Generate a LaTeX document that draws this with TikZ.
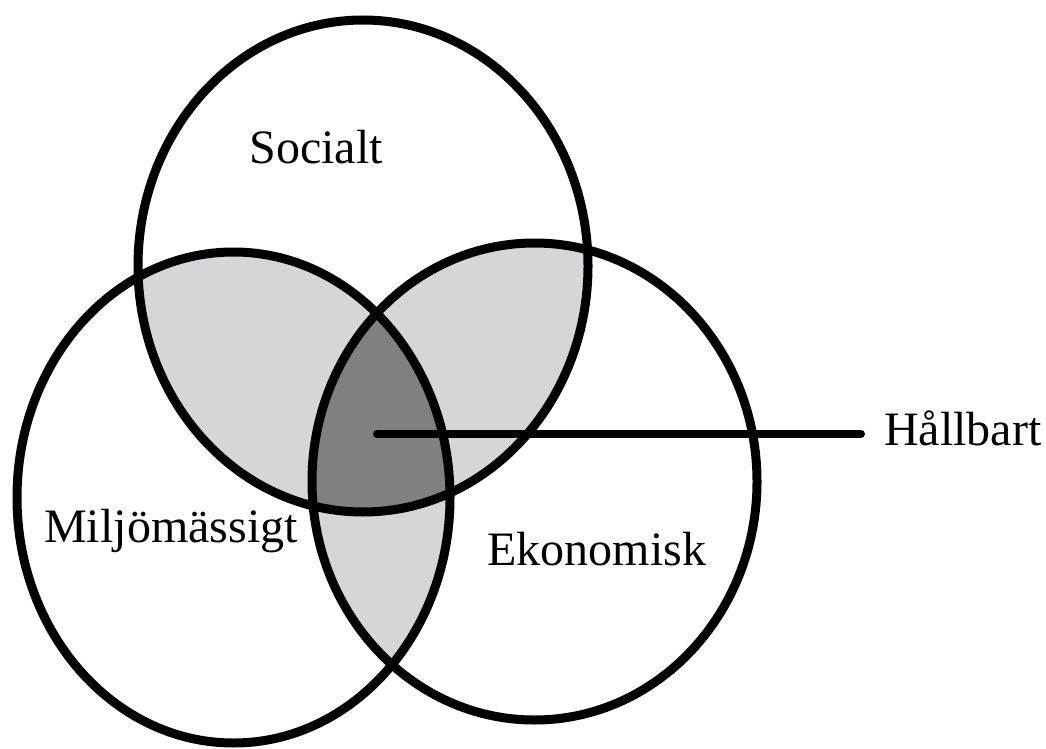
\documentclass[tikz,border=0pt]{standalone}
\usepackage{fontspec}
\setmainfont{Liberation Serif}
\definecolor{paleGray}{RGB}{214,214,216}
\definecolor{midGray}{RGB}{128,128,128}
\begin{document}
\begin{tikzpicture}[x=1pt,y=-1pt,
  ring/.style={draw=black, line width=9pt},
  pairfill/.style={fill=paleGray},
  corefill/.style={fill=midGray},
  setlabel/.style={font=\fontsize{48}{56}\selectfont, inner sep=0pt, anchor=base},
  pointer/.style={draw=black, line width=8pt, line cap=round}]
\useasboundingbox (0,0) rectangle (1046,749);

% pairwise overlaps
\begin{scope}
  \clip (363,266) ellipse [x radius=225pt, y radius=246pt];
  \fill[pairfill] (233.5,497.5) ellipse [x radius=216.5pt, y radius=245.5pt];
  \fill[pairfill] (534.5,481.5) ellipse [x radius=222.5pt, y radius=238.5pt];
\end{scope}
\begin{scope}
  \clip (233.5,497.5) ellipse [x radius=216.5pt, y radius=245.5pt];
  \fill[pairfill] (534.5,481.5) ellipse [x radius=222.5pt, y radius=238.5pt];
\end{scope}
% common core of all three
\begin{scope}
  \clip (363,266) ellipse [x radius=225pt, y radius=246pt];
  \clip (233.5,497.5) ellipse [x radius=216.5pt, y radius=245.5pt];
  \fill[corefill] (534.5,481.5) ellipse [x radius=222.5pt, y radius=238.5pt];
\end{scope}

% outlines
\draw[ring] (363,266) ellipse [x radius=225pt, y radius=246pt];
\draw[ring] (233.5,497.5) ellipse [x radius=216.5pt, y radius=245.5pt];
\draw[ring] (534.5,481.5) ellipse [x radius=222.5pt, y radius=238.5pt];

% labels
\node[setlabel] (socialt) at (316,163) {Socialt};
\node[setlabel] (miljo) at (171,542) {Miljömässigt};
\node[setlabel] (ekonomi) at (597,565) {Ekonomisk};
\node[setlabel, anchor=base west] (hallbart) at (884,445) {Hållbart};

% pointer from the core to its label
\coordinate (core) at (377,434);
\draw[pointer, shorten >=23pt] (core) -- (core -| hallbart.west);
\end{tikzpicture}
\end{document}
